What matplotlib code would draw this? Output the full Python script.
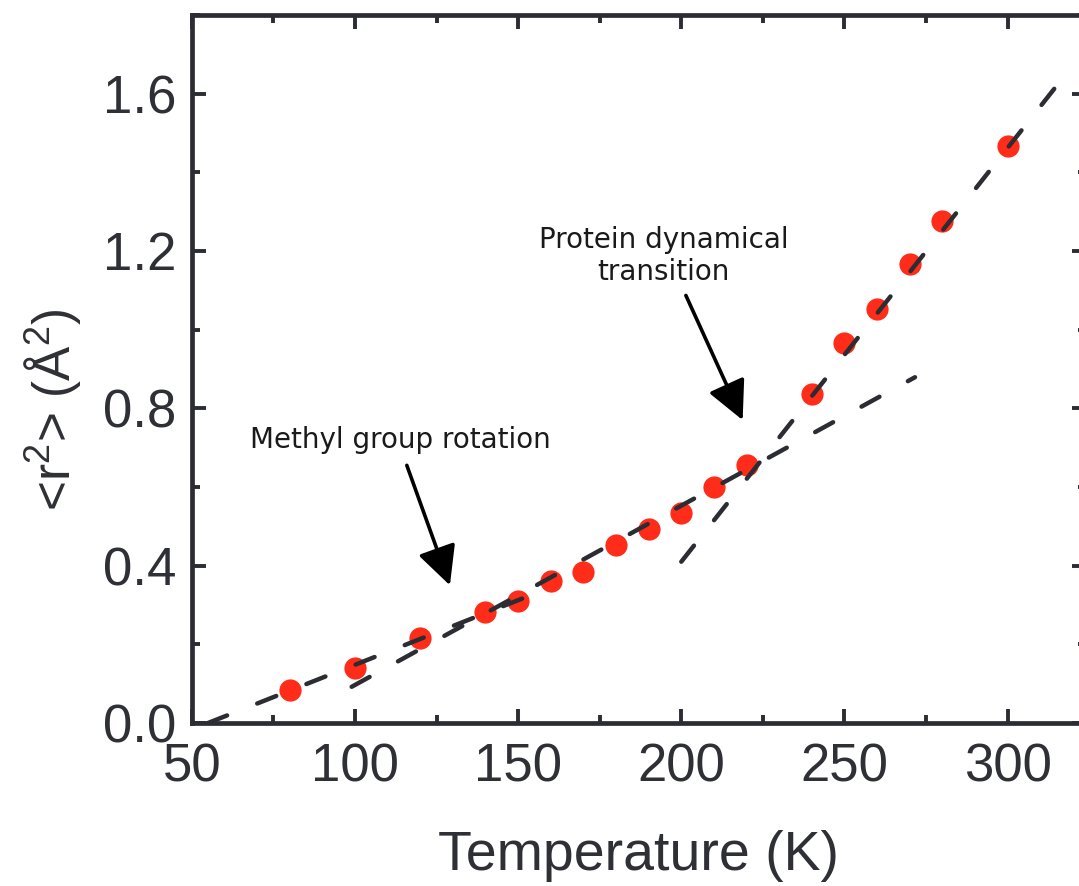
import numpy as np
import matplotlib
matplotlib.use('Agg')
import matplotlib.pyplot as plt
from matplotlib.ticker import MultipleLocator, FormatStrFormatter

plt.rcParams['font.family'] = ['Liberation Sans', 'DejaVu Sans']
plt.rcParams['mathtext.default'] = 'regular'

# measured mean square displacement vs temperature
temp = [80, 100, 120, 140, 150, 160, 170, 180, 190, 200, 210, 220, 240, 250, 260, 270, 280, 300]
msd = [0.084, 0.141, 0.215, 0.283, 0.311, 0.360, 0.383, 0.452, 0.494, 0.533,
       0.600, 0.657, 0.836, 0.967, 1.053, 1.167, 1.276, 1.466]

# dashed guide lines (end points)
harm_T = [55, 160]
harm_r = [0.0, 0.345]
methyl_T = [99, 271.6]
methyl_r = [0.092, 0.879]
trans_T = [200, 315]
trans_r = [0.41, 1.62]

dark = '#2b2d33'

fig = plt.figure(figsize=(10.79, 8.86), dpi=100)
ax = fig.add_axes([0.1777, 0.184, 0.8288, 0.7991])

ax.plot(temp, msd, 'o', color='#fe2c19', ms=16, mec='none', zorder=2)

dash = (0, (4.6, 7.3))
for xs, ys in [(harm_T, harm_r), (methyl_T, methyl_r), (trans_T, trans_r)]:
    ax.plot(xs, ys, color=dark, lw=3.2, linestyle=dash,
            dash_capstyle='round', zorder=3)

ax.set_xlim(50, 324)
ax.set_ylim(0, 1.8)
ax.xaxis.set_major_locator(MultipleLocator(50))
ax.xaxis.set_minor_locator(MultipleLocator(25))
ax.yaxis.set_major_locator(MultipleLocator(0.4))
ax.yaxis.set_minor_locator(MultipleLocator(0.2))
ax.yaxis.set_major_formatter(FormatStrFormatter('%.1f'))

for s in ax.spines.values():
    s.set_linewidth(3.4)
    s.set_color(dark)

ax.tick_params(which='both', direction='in', top=True, right=True,
               color=dark, width=2.8, labelcolor='#2e3035', labelsize=38)
ax.tick_params(which='major', length=10)
ax.tick_params(which='minor', length=6)
ax.tick_params(axis='x', pad=14)
ax.tick_params(axis='y', pad=11)

ax.set_xlabel('Temperature (K)', fontsize=40, color='#2e3035', labelpad=27)
ax.set_ylabel('<r$^2$> (Å$^2$)', fontsize=37, color='#2e3035')
ax.yaxis.set_label_coords(-0.122, 0.442)

# annotations
arrow = dict(arrowstyle='-|>,head_length=0.6,head_width=0.3', mutation_scale=40,
             lw=2.6, color='black', shrinkA=0, shrinkB=0)
ax.annotate('', xy=(129.1, 0.350), xytext=(115.9, 0.655), arrowprops=arrow)
ax.annotate('', xy=(218.8, 0.770), xytext=(201.4, 1.087), arrowprops=arrow)

ax.text(113.8, 0.698, 'Methyl group rotation', family='DejaVu Sans', fontsize=20,
        ha='center', va='baseline', color='#1a1a1a')
ax.text(194.5, 1.125, 'Protein dynamical\ntransition', family='DejaVu Sans',
        fontsize=20, ha='center', va='baseline', multialignment='center',
        color='#1a1a1a')

fig.savefig('out.png', dpi=100)
